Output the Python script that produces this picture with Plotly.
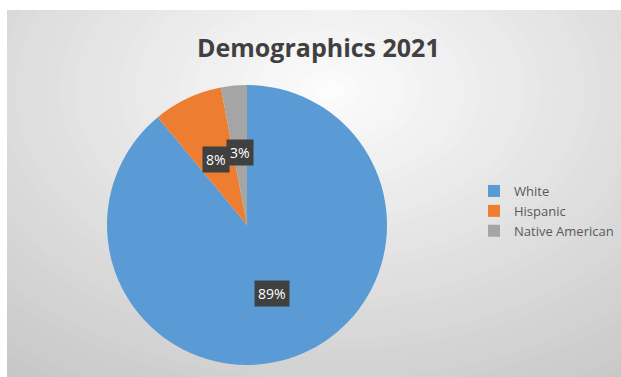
import math
import plotly.graph_objects as go

categories = ["White", "Hispanic", "Native American"]
values = [89, 8, 3]
colors = ["#5B9BD5", "#ED7D31", "#A5A5A5"]
title_text = "Demographics 2021"

W, H = 621, 377
# pie geometry in pixels
cx, cy, R = 247, 225, 140

fig = go.Figure()
fig.add_trace(go.Pie(
    labels=categories, values=values, sort=False, direction="clockwise", rotation=0,
    marker=dict(colors=colors, line=dict(width=0)),
    textinfo="none", hoverinfo="label+percent",
    domain=dict(x=[(cx - R) / W, (cx + R) / W], y=[1 - (cy + R) / H, 1 - (cy - R) / H]),
))

# background: radial gradient imitation (concentric ellipses)
shapes = []
bx0, by0 = 7, 10
shapes.append(dict(type="rect", xref="paper", yref="paper", layer="below",
                   x0=bx0 / W, x1=1, y0=0, y1=1 - by0 / H,
                   fillcolor="#c8c8c8", line=dict(width=0)))
gcx, gcy = 330, 90
aspect = 1.5
step = 10
b = 380
while b > 0:
    v = int(round(253 - 0.15 * b))
    v = max(0, min(255, v))
    col = "#%02x%02x%02x" % (v, v, v)
    rx, ry = b * aspect, b
    shapes.append(dict(type="circle", xref="paper", yref="paper", layer="below",
                       x0=(gcx - rx) / W, x1=(gcx + rx) / W,
                       y0=1 - (gcy + ry) / H, y1=1 - (gcy - ry) / H,
                       fillcolor=col, line=dict(width=0)))
    b -= step
# white outer border (top and left)
shapes.append(dict(type="rect", xref="paper", yref="paper", layer="below",
                   x0=0, x1=1, y0=1 - by0 / H, y1=1.5, fillcolor="white", line=dict(width=0)))
shapes.append(dict(type="rect", xref="paper", yref="paper", layer="below",
                   x0=-0.5, x1=bx0 / W, y0=-0.5, y1=1.5, fillcolor="white", line=dict(width=0)))

# labels in dark boxes, placed at mid-angle of each slice
annotations = []
total = sum(values)
start = 0.0
for cat, v in zip(categories, values):
    mid = start + v / total * 360 / 2
    start += v / total * 360
    a = math.radians(mid)
    rr = 0.52 * R
    px = cx + rr * math.sin(a)
    py = cy - rr * math.cos(a)
    annotations.append(dict(
        x=px / W, y=1 - py / H, xref="paper", yref="paper",
        xanchor="center", yanchor="middle",
        text="%d%%" % round(v / total * 100), showarrow=False,
        font=dict(family="Open Sans", size=14, color="white"),
        bgcolor="#404040", borderpad=3,
    ))

annotations.append(dict(
    x=318 / W, y=1 - 47 / H, xref="paper", yref="paper", showarrow=False,
    xanchor="center", yanchor="middle",
    text="<b>%s</b>" % title_text,
    font=dict(family="Open Sans", size=25, color="#404040"),
))

fig.update_layout(
    width=W, height=H, margin=dict(l=0, r=0, t=0, b=0),
    paper_bgcolor="white", plot_bgcolor="white",
    shapes=shapes, annotations=annotations,
    showlegend=True,
    legend=dict(x=474 / W, y=1 - 176 / H, xanchor="left", yanchor="top",
                font=dict(family="Open Sans", size=13, color="#595959"),
                bgcolor="rgba(0,0,0,0)", itemwidth=30),
)
fig.write_html("out.html")
